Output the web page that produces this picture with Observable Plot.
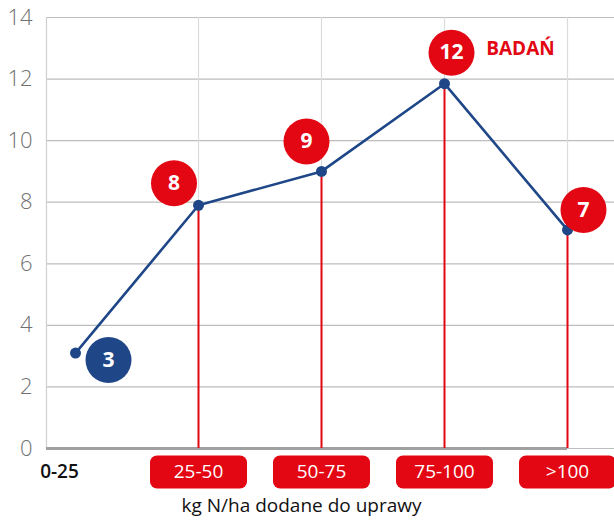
<!DOCTYPE html>
<html>
<head>
<meta charset="utf-8">
<script src="https://cdn.jsdelivr.net/npm/d3@7"></script>
<script src="https://cdn.jsdelivr.net/npm/@observablehq/plot@0.6"></script>
<style>
  html, body { margin: 0; padding: 0; background: #fff; }
  #chart svg { display: block; }
</style>
</head>
<body>
<div id="chart"></div>
<script>
const categories = ["0-25", "25-50", "50-75", "75-100", ">100"];
const values = [3.1, 7.9, 9.0, 11.85, 7.1];
const counts = [3, 8, 9, 12, 7];
const yTicks = [0, 2, 4, 6, 8, 10, 12, 14];
const xTitle = "kg N/ha dodane do uprawy";
const unitLabel = "BADAŃ";

const RED = "#e30613";
const BLUE = "#1f4788";
const FONT = "'Open Sans', Lato, sans-serif";

const data = categories.map((c, i) => ({cat: c, value: values[i], count: counts[i], i}));

// label-circle offsets (pixels) relative to each point
const offsets = [[33, 7], [-24.5, -22], [-15, -30], [7, -31], [16, -20]];
const circleFill = [BLUE, RED, RED, RED, RED];

const roundRect = {
  draw(ctx) {
    const w = 97, h = 33, r = 7, x0 = -w / 2, y0 = -h / 2;
    ctx.moveTo(x0 + r, y0);
    ctx.lineTo(x0 + w - r, y0);
    ctx.arcTo(x0 + w, y0, x0 + w, y0 + r, r);
    ctx.lineTo(x0 + w, y0 + h - r);
    ctx.arcTo(x0 + w, y0 + h, x0 + w - r, y0 + h, r);
    ctx.lineTo(x0 + r, y0 + h);
    ctx.arcTo(x0, y0 + h, x0, y0 + h - r, r);
    ctx.lineTo(x0, y0 + r);
    ctx.arcTo(x0, y0, x0 + r, y0, r);
    ctx.closePath();
  }
};

const countMarks = data.flatMap((d, k) => [
  Plot.dot([d], {x: "cat", y: "value", r: 23, fill: circleFill[k], dx: offsets[k][0], dy: offsets[k][1]}),
  Plot.text([d], {x: "cat", y: "value", text: "count", fill: "white", fontSize: 21, fontWeight: "bold",
    dx: offsets[k][0], dy: offsets[k][1], fontFamily: FONT})
]);

const boxed = data.filter(d => d.i > 0);

const chart = Plot.plot({
  width: 614,
  height: 522,
  marginLeft: 46,
  marginRight: 0,
  marginTop: 17,
  marginBottom: 74,
  style: {fontFamily: FONT, background: "white"},
  x: {type: "point", domain: categories, range: [74, 567], padding: 0, axis: null},
  y: {domain: [0, 14], ticks: yTicks, axis: null},
  marks: [
    Plot.gridY(yTicks, {stroke: "#bdbdbd", strokeOpacity: 1, strokeWidth: 1.2}),
    Plot.ruleX(boxed, {x: "cat", y1: 0, y2: 14, stroke: "#dcdcdc", strokeWidth: 1.2}),
    Plot.frame({anchor: "left", stroke: "#d0d0d0", strokeWidth: 1.2}),
    Plot.axisY(yTicks, {tickSize: 0, tickPadding: 14, fontSize: 22, fontWeight: 300, fill: "#707070", label: null}),
    Plot.ruleY([0], {stroke: "#a0a0a0", strokeWidth: 3, insetRight: 47}),
    Plot.ruleX(boxed, {x: "cat", y1: 0, y2: "value", stroke: RED, strokeWidth: 2}),
    Plot.line(data, {x: "cat", y: "value", stroke: BLUE, strokeWidth: 2.6}),
    Plot.dot(data, {x: "cat", y: "value", r: 5.5, fill: BLUE}),
    ...countMarks,
    Plot.text([unitLabel], {x: () => "75-100", y: () => values[3], text: d => d, fill: RED,
      fontSize: 19, fontWeight: "bold", dx: 76, dy: -35}),
    Plot.dot(boxed, {x: "cat", y: () => 0, symbol: roundRect, fill: RED, dy: 23.5}),
    Plot.text(boxed, {x: "cat", y: () => 0, text: "cat", fill: "white", fontSize: 19, dy: 23.5}),
    Plot.text(data.filter(d => d.i === 0), {x: "cat", y: () => 0, text: "cat", fill: "#111", fontSize: 19, fontWeight: 600, dx: -16, dy: 23}),
    Plot.text([xTitle], {frameAnchor: "bottom", text: d => d, fill: "#111", fontSize: 19, dx: -29, dy: 63})
  ]
});

document.getElementById("chart").appendChild(chart);
</script>
</body>
</html>
